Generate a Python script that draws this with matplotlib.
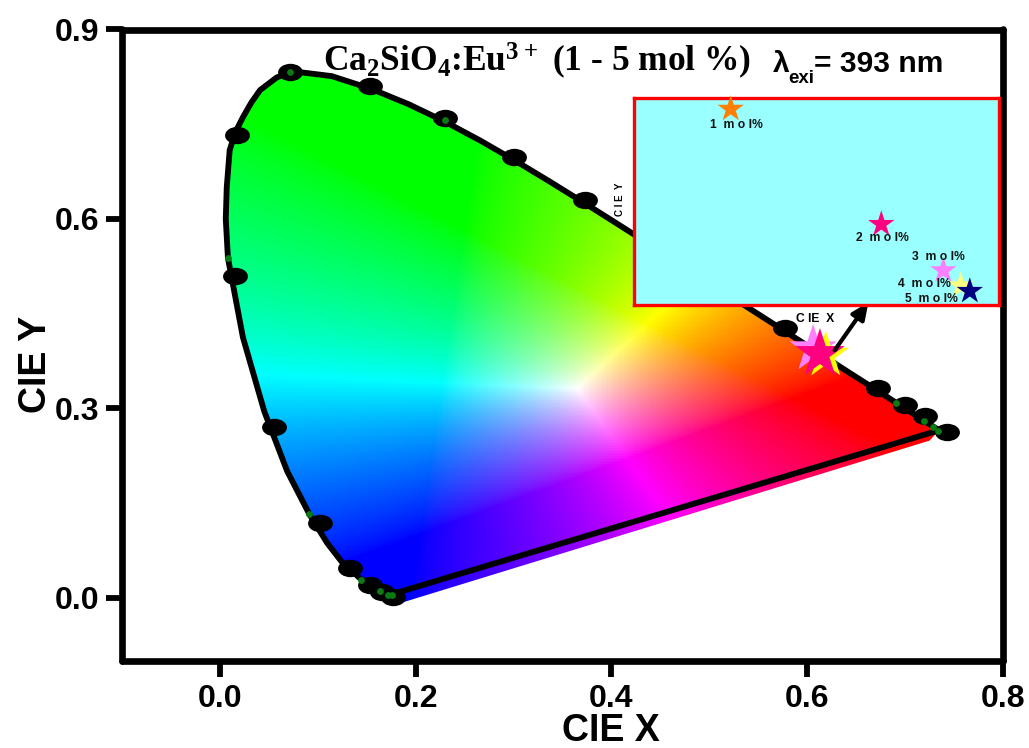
import numpy as np
import matplotlib
matplotlib.use("Agg")
import matplotlib.pyplot as plt
from matplotlib.path import Path
from matplotlib.patches import PathPatch
from matplotlib.transforms import Affine2D

plt.rcParams['font.family'] = ['Liberation Sans', 'DejaVu Sans']
plt.rcParams['font.weight'] = 'bold'
plt.rcParams['mathtext.default'] = 'regular'

# Spectral locus
locus_x = [0.1741, 0.1665, 0.1570, 0.1440, 0.1241, 0.1096, 0.0913, 0.0687, 0.0454, 0.0235, 0.0082, 0.0060, 0.0070, 0.0100, 0.0160, 0.0235, 0.0320, 0.0410, 0.0580, 0.0743, 0.1142, 0.1547, 0.1929, 0.2296, 0.2658, 0.3016, 0.3373, 0.3731, 0.4087, 0.4441, 0.4788, 0.5125, 0.5448, 0.5752, 0.6029, 0.6270, 0.6482, 0.6658, 0.6915, 0.7079, 0.7190, 0.7260, 0.7347]
locus_y = [0.0050, 0.0090, 0.0180, 0.0297, 0.0578, 0.0868, 0.1327, 0.2007, 0.2950, 0.4127, 0.5384, 0.6000, 0.6500, 0.7090, 0.7380, 0.7610, 0.7840, 0.8040, 0.8240, 0.8338, 0.8262, 0.8059, 0.7816, 0.7543, 0.7243, 0.6923, 0.6589, 0.6245, 0.5896, 0.5547, 0.5202, 0.4866, 0.4544, 0.4242, 0.3965, 0.3725, 0.3514, 0.3340, 0.3083, 0.2920, 0.2809, 0.2740, 0.2653]
# lower edge of the coloured area (sits just under the black closing line)
fill_edge_x = [0.7250, 0.1850]
fill_edge_y = [0.2490, -0.0080]
# black blobs
blob_x = [0.072, 0.153, 0.230, 0.300, 0.373, 0.017, 0.015, 0.055, 0.102, 0.133, 0.153, 0.166, 0.177, 0.577, 0.672, 0.700, 0.720, 0.743]
blob_y = [0.833, 0.810, 0.760, 0.698, 0.630, 0.733, 0.510, 0.270, 0.119, 0.047, 0.020, 0.010, 0.002, 0.427, 0.332, 0.305, 0.288, 0.262]
# green dots
dot_x = [0.072, 0.230, 0.008, 0.091, 0.144, 0.164, 0.172, 0.176, 0.627, 0.691, 0.719, 0.729, 0.734]
dot_y = [0.833, 0.757, 0.538, 0.133, 0.028, 0.011, 0.005, 0.004, 0.372, 0.309, 0.280, 0.270, 0.264]
# stars in the main plot
main_star_x = [0.606, 0.619, 0.613]
main_star_y = [0.394, 0.384, 0.386]
main_star_c = ['#FF80FF', '#FFFF00', '#FF0080']
# inset data
labels = ['1  m o l%', '2  m o l%', '3  m o l%', '4  m o l%', '5  m o l%']
ins_x = [0.6066, 0.6231, 0.6299, 0.6318, 0.6328]
ins_y = [0.3934, 0.3767, 0.3700, 0.3678, 0.3670]
ins_c = ['#FF8000', '#FF0080', '#FF80FF', '#FFFF80', '#000080']
x_ticks = [0.0, 0.2, 0.4, 0.6, 0.8]
y_ticks = [0.0, 0.3, 0.6, 0.9]

W, H = 1029, 748
fig = plt.figure(figsize=(W / 100, H / 100), dpi=100, facecolor='white')
def box(l, t, r, b):
    return [l / W, 1 - b / H, (r - l) / W, (b - t) / H]
def px(x, y):
    return x / W, 1 - y / H

ax = fig.add_axes(box(122, 29.5, 1003, 661))
ax.set_xlim(-0.1, 0.8)
ax.set_ylim(-0.1, 0.9)

# colour field
gx, gy = np.meshgrid(np.linspace(-0.02, 0.76, 330), np.linspace(-0.02, 0.86, 350))
prim = np.array([[0.585, 0.25, 0.205], [0.315, 0.58, 0.10]])
prim = np.vstack([prim, 1 - prim.sum(axis=0)])
white = np.array([0.365, 0.33, 0.305])
scale = np.linalg.solve(prim, white)
M = np.linalg.inv(prim * scale)
xyz = np.stack([gx, gy, 1 - gx - gy], axis=-1)
rgb = np.clip(xyz @ M.T, 0, None)
rgb = rgb / np.maximum(rgb.max(axis=-1, keepdims=True), 1e-6)
rgb = rgb ** (1 / 1.4)
im = ax.imshow(rgb, extent=[gx.min(), gx.max(), gy.min(), gy.max()], origin='lower',
               aspect='auto', interpolation='nearest', zorder=1)
verts = list(zip(locus_x, locus_y)) + list(zip(fill_edge_x, fill_edge_y)) + [(locus_x[0], locus_y[0])]
clip = PathPatch(Path(verts), transform=ax.transData, fc='none', ec='none')
ax.add_patch(clip)
im.set_clip_path(clip)

# outline
ax.plot(locus_x + locus_x[:1], locus_y + locus_y[:1], color='black', lw=4.2, zorder=3, solid_joinstyle='round')
ell = Path.unit_circle().transformed(Affine2D().scale(1, 0.7))
ax.scatter(blob_x, blob_y, s=320, marker=ell, color='black', lw=0, zorder=4)
ax.scatter(dot_x, dot_y, s=24, color='#0A7A12', lw=0, zorder=5)
ax.scatter(main_star_x, main_star_y, s=[1300, 1250, 1400], marker='*', c=main_star_c, lw=0, zorder=6)
ax.annotate('', xy=(0.6625, 0.468), xytext=(0.628, 0.392), zorder=7,
            arrowprops=dict(arrowstyle='-|>,head_length=1.0,head_width=0.45', color='black', lw=3.0,
                            shrinkA=0, shrinkB=0))

ax.set_xticks(x_ticks, [f'{v:.1f}' for v in x_ticks])
ax.set_yticks(y_ticks, [f'{v:.1f}' for v in y_ticks])
ax.set_xticks(np.arange(-0.1, 0.81, 0.1), minor=True)
ax.set_yticks(np.arange(-0.0, 0.91, 0.15), minor=True)
ax.tick_params(which='major', length=11.5, width=4.2, labelsize=23, pad=5)
ax.tick_params(which='minor', length=1.2, width=1, top=True, right=True)
for s in ax.spines.values():
    s.set_linewidth(4.8)
    s.set_capstyle('round')
    s.set_zorder(10)
ax.set_xlabel('CIE X', fontsize=27, fontweight='bold')
ax.xaxis.set_label_coords(0.5545, -0.083)
ax.set_ylabel('CIE Y', fontsize=27, fontweight='bold')
ax.yaxis.set_label_coords(-0.077, 0.470)

# inset
axi = fig.add_axes(box(634, 98, 999, 305), facecolor='#99FFFF', zorder=5)
axi.set_xlim(0.596, 0.636)
axi.set_ylim(0.365, 0.395)
axi.scatter(ins_x, ins_y, s=400, marker='*', c=ins_c, lw=0, zorder=3, clip_on=False)
axi.set_xticks(np.linspace(0.596, 0.636, 21), [''] * 21)
axi.set_yticks(np.linspace(0.365, 0.395, 16), [''] * 16)
axi.tick_params(length=1, width=1, color='red', top=True, right=True)
for s in axi.spines.values():
    s.set_color('red')
    s.set_linewidth(2.4)

label_pos = [(736, 125), (882, 238), (938, 257), (924, 284), (931, 299)]
for lab, (lx, ly) in zip(labels, label_pos):
    fig.text(*px(lx, ly), lab, fontsize=8.7, ha='center', va='center', color='#111111', zorder=20)
fig.text(*px(815, 319), 'C IE  X', fontsize=8.7, ha='center', va='center', zorder=20)
fig.text(*px(620, 199), 'C I E  Y', fontsize=7, ha='center', va='center', rotation=90, zorder=1)

fig.text(*px(323, 71), 'Ca$_2$SiO$_4$:Eu$^{3+}$ (1 - 5 mol %)', fontsize=25.5, family='Liberation Serif',
         fontweight='bold', ha='left', va='baseline', zorder=20)
fig.text(*px(773, 72), '\u03bb', fontsize=21.6, fontweight='bold', ha='left', va='baseline', zorder=20)
fig.text(*px(788, 83), 'exi', fontsize=13.5, fontweight='bold', ha='left', va='baseline', zorder=20)
fig.text(*px(814, 72), '= 393 nm', fontsize=21.6, fontweight='bold', ha='left', va='baseline', zorder=20)

fig.savefig('out.png', dpi=100)
